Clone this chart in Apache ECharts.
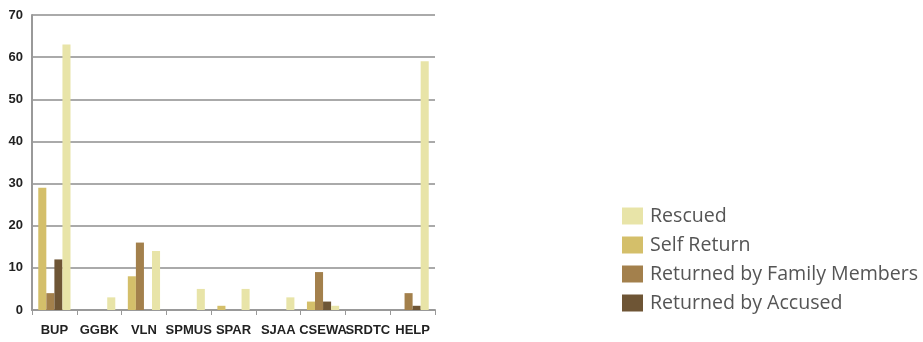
<!DOCTYPE html>
<html>
<head>
<meta charset="utf-8">
<script src="https://cdn.jsdelivr.net/npm/echarts@6/dist/echarts.min.js"></script>
<style>
  html, body { margin: 0; padding: 0; background: #fff; }
  #chart { width: 923px; height: 342px; }
</style>
</head>
<body>
<div id="chart"></div>
<script>
// categories and values
var categories = ['BUP', 'GGBK', 'VLN', 'SPMUS', 'SPAR', 'SJAA', 'CSEWA', 'SRDTC', 'HELP'];
var rescued    = [63, 3, 14, 5, 5, 3, 1, 0, 59];
var selfReturn = [29, 0, 8, 0, 1, 0, 2, 0, 0];
var byFamily   = [4, 0, 16, 0, 0, 0, 9, 0, 4];
var byAccused  = [12, 0, 0, 0, 0, 0, 2, 0, 1];
var yTicks = [0, 10, 20, 30, 40, 50, 60, 70];

var myChart = echarts.init(document.getElementById('chart'));
var option = {
    backgroundColor: '#fff',
    animation: false,
    grid: { left: 32, right: 488, top: 15, bottom: 32 },
    legend: {
        orient: 'vertical',
        left: 617,
        top: 201,
        itemWidth: 21,
        itemHeight: 17,
        itemGap: 9,
        icon: 'rect',
        data: ['Rescued', 'Self Return', 'Returned by Family Members', 'Returned by Accused'],
        textStyle: { fontFamily: 'Open Sans', fontSize: 19.6, color: '#555', padding: [0, 0, 0, 2] }
    },
    xAxis: {
        type: 'category',
        data: categories,
        axisLine: { lineStyle: { color: '#999', width: 2 } },
        axisTick: { show: true, length: 5, lineStyle: { color: '#999' } },
        axisLabel: { interval: 0, fontFamily: 'Liberation Sans', fontWeight: 'bold', fontSize: 13, color: '#222', margin: 14 }
    },
    yAxis: {
        type: 'value',
        min: yTicks[0],
        max: yTicks[yTicks.length - 1],
        interval: 10,
        axisLine: { show: true, lineStyle: { color: '#999', width: 2 } },
        axisTick: { show: false },
        splitLine: { lineStyle: { color: '#aaa', width: 2 } },
        axisLabel: { fontFamily: 'Liberation Sans', fontWeight: 'bold', fontSize: 13, color: '#222', margin: 9 }
    },
    series: [
        { name: 'Self Return', type: 'bar', data: selfReturn, barGap: '0%', barCategoryGap: '28%',
          itemStyle: { color: '#d4bf6a' } },
        { name: 'Returned by Family Members', type: 'bar', data: byFamily, itemStyle: { color: '#a3804c' } },
        { name: 'Returned by Accused', type: 'bar', data: byAccused, itemStyle: { color: '#6e5535' } },
        { name: 'Rescued', type: 'bar', data: rescued, itemStyle: { color: '#e8e4a8' } }
    ]
};
myChart.setOption(option);
</script>
</body>
</html>
